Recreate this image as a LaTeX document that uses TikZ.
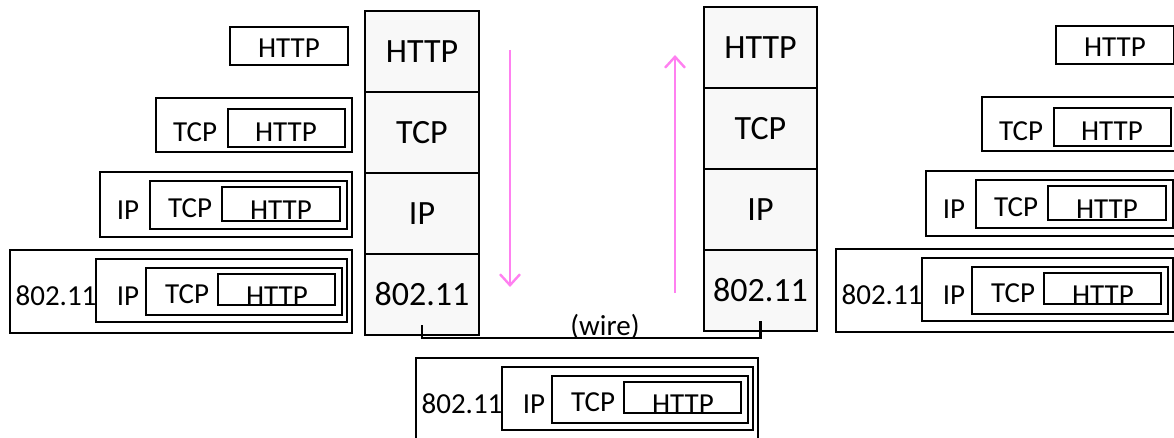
\documentclass[tikz,border=0pt]{standalone}
\usepackage{fontspec}
\setmainfont{Carlito}
\usepackage{tikz}
\usetikzlibrary{arrows.meta, positioning, fit}
\definecolor{stackgray}{RGB}{248,248,248}
\definecolor{flowpink}{RGB}{255,128,240}

\begin{document}
\begin{tikzpicture}[
    x=1pt, y=-1pt,
    % Node styles
    layer/.style={rectangle, draw=black, line width=1.4pt, fill=stackgray,
                  minimum width=114pt, minimum height=81pt, inner sep=0pt, outer sep=0pt,
                  font=\fontsize{34}{40}\selectfont},
    pkt/.style={rectangle, draw=black, line width=1.3pt, inner sep=0pt},
    hdr/.style={anchor=base, inner sep=0pt, font=\fontsize{29}{34}\selectfont},
    flow/.style={line width=2.4pt, flowpink, -{Straight Barb[length=11pt, width=20pt]}},
    wire/.style={line width=2.2pt}
]
\useasboundingbox (0,0) rectangle (1174,438);

% Sender stack
\node (lhttp) [layer] at (422,51.5) {HTTP};
\node (ltcp) [layer, below=0pt of lhttp] {TCP};
\node (lip) [layer, below=0pt of ltcp] {IP};
\node (l80211) [layer, below=0pt of lip] {802.11};

% Receiver stack
\node (rhttp) [layer, minimum width=113pt] at (760.5,47.5) {HTTP};
\node (rtcp) [layer, minimum width=113pt, below=0pt of rhttp] {TCP};
\node (rip) [layer, minimum width=113pt, below=0pt of rtcp] {IP};
\node (r80211) [layer, minimum width=113pt, below=0pt of rip] {802.11};

% Packets on both sides
\foreach \dx/\dy/\s in {0/0/L, 826/-1/R} {
  \begin{scope}[shift={(\dx,\dy)}]
    % HTTP only
    \node (app\s) [pkt, fit={(230,27) (348,65)}] {};
    \node (appt\s) [hdr] at (289,58) {HTTP};
    % TCP + HTTP
    \node (seg\s) [pkt, fit={(156,98) (352,152)}] {};
    \node (segh\s) [hdr] at (195,142) {TCP};
    \node (segp\s) [pkt, fit={(228,109) (345,147)}] {};
    \node (segt\s) [hdr] at (286,142) {HTTP};
    % IP + TCP + HTTP
    \node (dgm\s) [pkt, fit={(100,172) (352,237)}] {};
    \node (dgmh\s) [hdr] at (128,220) {IP};
    \node (dgms\s) [pkt, fit={(150,181) (347,229)}] {};
    \node (dgmsh\s) [hdr] at (190,218) {TCP};
    \node (dgmp\s) [pkt, fit={(222,187) (340,221)}] {};
    \node (dgmt\s) [hdr] at (281,220) {HTTP};
  \end{scope}
}

% Frames (both sides and on the wire)
\foreach \dx/\dy/\s in {0/0/L, 826/-1/R, 406/108/B} {
  \begin{scope}[shift={(\dx,\dy)}]
    \node (frm\s) [pkt, fit={(10,250) (352,333)}] {};
    \node (frmh\s) [hdr] at (56,305) {802.11};
    \node (frmd\s) [pkt, fit={(96,259) (347,322)}] {};
    \node (frmdh\s) [hdr] at (128,305) {IP};
    \node (frms\s) [pkt, fit={(146,268) (342,315)}] {};
    \node (frmsh\s) [hdr] at (187,303) {TCP};
    \node (frmp\s) [pkt, fit={(218,274) (335,305)}] {};
    \node (frmt\s) [hdr] at (277,305) {HTTP};
  \end{scope}
}

% Direction arrows
\coordinate (dtop) at (510,50);
\coordinate (dbot) at (510,287);
\coordinate (ubot) at (675,293);
\coordinate (utop) at (675,55);
\draw [flow] (dtop) -- (dbot);
\draw [flow] (ubot) -- (utop);

% Wire
\node (wlabel) [hdr] at (605,335) {(wire)};
\coordinate (wbase) at (600,338);
\draw [wire] ([yshift=10pt]l80211.south) |- (wbase) -| ([yshift=10pt]r80211.south);

\end{tikzpicture}
\end{document}
